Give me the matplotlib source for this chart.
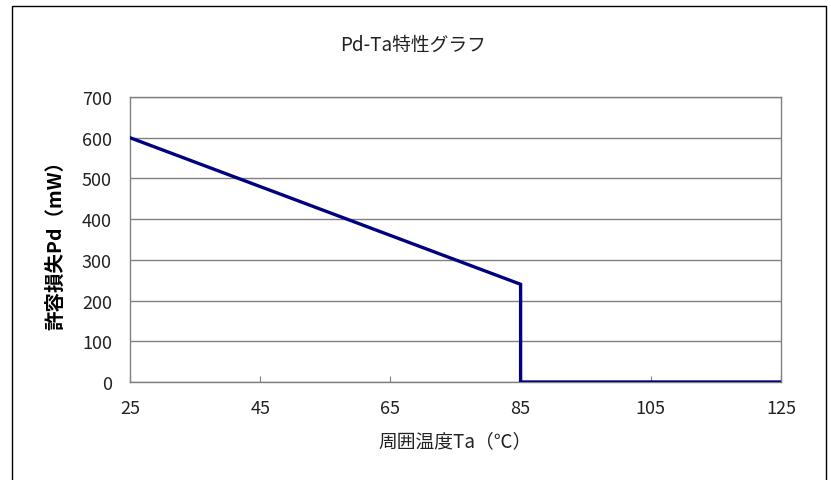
import matplotlib
matplotlib.use('Agg')
import matplotlib.pyplot as plt
from matplotlib.patches import Rectangle

plt.rcParams['font.family'] = ['Noto Sans CJK JP', 'DejaVu Sans']

# data
ta = [25, 85, 85, 125]
pd_mw = [600, 240, 0, 0]
x_ticks = [25, 45, 65, 85, 105, 125]
y_ticks = [0, 100, 200, 300, 400, 500, 600, 700]

title = 'Pd-Ta特性グラフ'
x_label = '周囲温度Ta（℃）'
y_label = '許容損失Pd（mW）'

fig = plt.figure(figsize=(8.31, 4.81), dpi=100)
# outer chart-area border (bottom edge is cut off in the original)
fig.patches.append(Rectangle((12 / 831, -0.05), 814 / 831, 1 - 7 / 481 + 0.05,
                             transform=fig.transFigure, fill=False,
                             edgecolor='black', linewidth=1.0))

ax = fig.add_axes([130 / 831, 1 - 383 / 481, 651 / 831, 285 / 481])
ax.plot(ta, pd_mw, color='#000080', linewidth=2.4, solid_joinstyle='miter', zorder=3)

ax.set_xlim(25, 125)
ax.set_ylim(0, 700)
ax.set_xticks(x_ticks)
ax.set_yticks(y_ticks)
ax.yaxis.grid(True, color='#808080', linewidth=1.0)
ax.set_axisbelow(True)
for s in ax.spines.values():
    s.set_color('#808080')
    s.set_linewidth(1.0)

ax.tick_params(axis='x', direction='in', length=4.5, color='#808080', labelsize=13, pad=12, labelcolor='#222222')
ax.tick_params(axis='y', length=0, labelsize=13, pad=13, labelcolor='#222222')

fig.text(413 / 831, 1 - 45 / 481, title, fontsize=13.5, color='#222222', ha='center', va='center')
ax.set_xlabel(x_label, fontsize=13.5, labelpad=10, color='#222222')
ax.set_ylabel(y_label, fontsize=14, fontweight='bold', labelpad=12)

fig.savefig('out.png', dpi=100)
